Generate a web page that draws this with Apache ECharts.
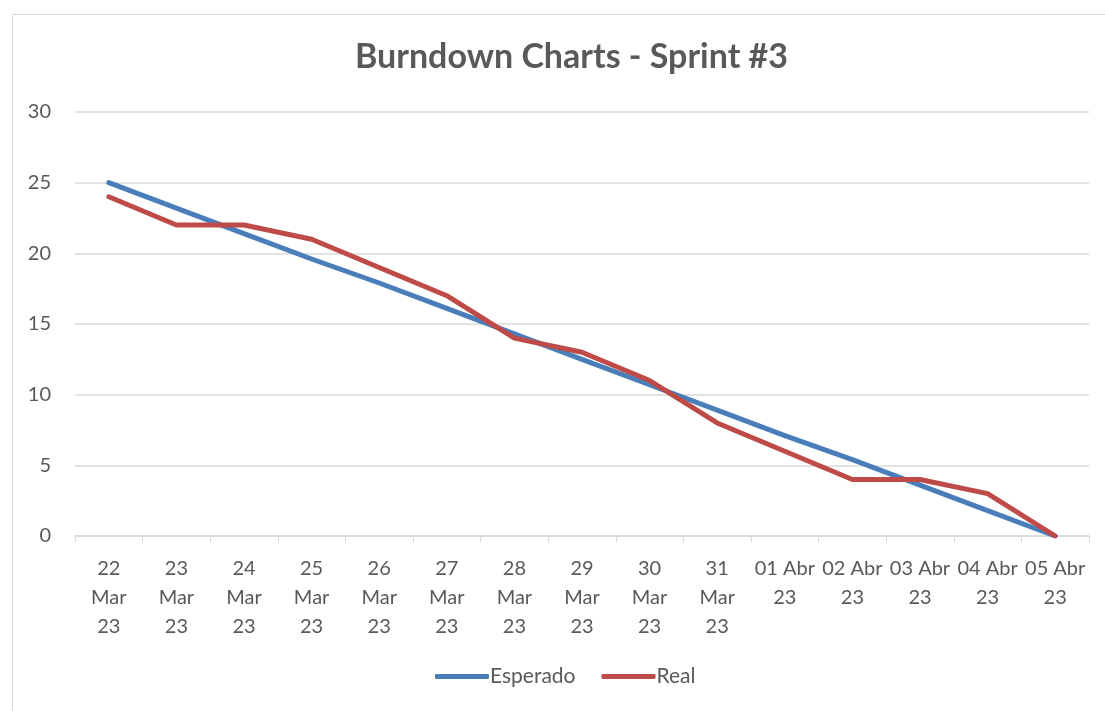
<!DOCTYPE html>
<html>
<head>
<meta charset="utf-8">
<script src="https://cdn.jsdelivr.net/npm/echarts@6/dist/echarts.min.js"></script>
<style>
html,body{margin:0;padding:0;background:#fff;}
#chart{width:1105px;height:711px;}
</style>
</head>
<body>
<div id="chart"></div>
<script>
const categories = ['22 Mar 23','23 Mar 23','24 Mar 23','25 Mar 23','26 Mar 23','27 Mar 23','28 Mar 23','29 Mar 23','30 Mar 23','31 Mar 23','01 Abr 23','02 Abr 23','03 Abr 23','04 Abr 23','05 Abr 23'];
const esperado = [25, 23.2, 21.4, 19.6, 17.9, 16.1, 14.3, 12.5, 10.7, 8.9, 7.1, 5.4, 3.6, 1.8, 0];
const real = [24, 22, 22, 21, 19, 17, 14, 13, 11, 8, 6, 4, 4, 3, 0];
const yTicks = [0, 5, 10, 15, 20, 25, 30];

const FONT = 'Lato';
const chart = echarts.init(document.getElementById('chart'), null, {renderer:'canvas'});
chart.setOption({
  backgroundColor: '#fff',
  animation: false,
  textStyle: {fontFamily: FONT},
  graphic: [{
    type: 'rect', left: 10, top: 12, silent: true,
    shape: {width: 1200, height: 800},
    style: {fill: 'none', stroke: '#d9d9d9', lineWidth: 1}
  }],
  title: {
    text: 'Burndown Charts - Sprint #3',
    left: 350, top: 35,
    textStyle: {fontFamily: FONT, fontSize: 34, fontWeight: 'bold', color: '#595959'}
  },
  legend: {
    bottom: 19, left: 430,
    itemWidth: 54, itemHeight: 5, itemGap: 26,
    icon: 'roundRect',
    textStyle: {fontFamily: FONT, fontSize: 21, color: '#595959', padding: [0,0,0,-4]},
    data: ['Esperado', 'Real']
  },
  grid: {left: 75, right: 16, top: 112, bottom: 175, containLabel: false},
  xAxis: {
    type: 'category', data: categories, boundaryGap: true,
    axisLine: {lineStyle: {color: '#d9d9d9', width: 1.5}},
    axisTick: {show: true, length: 6, lineStyle: {color: '#d9d9d9'}},
    axisLabel: {
      interval: 0, margin: 18, color: '#595959', fontSize: 20, fontFamily: FONT, lineHeight: 29,
      formatter: function (v) {
        const p = v.split(' ');
        return p[1] === 'Mar' ? p.join('\n') : p[0] + ' ' + p[1] + '\n' + p[2];
      }
    }
  },
  yAxis: {
    type: 'value', min: 0, max: 30, interval: 5,
    axisLine: {show: false}, axisTick: {show: false},
    splitLine: {lineStyle: {color: '#d9d9d9', width: 1.5}},
    axisLabel: {color: '#595959', fontSize: 20, fontFamily: FONT, margin: 24,
      formatter: function (v) { return yTicks.indexOf(v) >= 0 ? String(v) : ''; }}
  },
  series: [
    {name: 'Esperado', type: 'line', data: esperado, showSymbol: false, symbol: 'none',
     color: '#4a7ebb', lineStyle: {width: 5, color: '#4a7ebb', cap: 'round', join: 'round'}},
    {name: 'Real', type: 'line', data: real, showSymbol: false, symbol: 'none',
     color: '#be4b48', lineStyle: {width: 5, color: '#be4b48', cap: 'round', join: 'round'}}
  ]
});
</script>
</body>
</html>
